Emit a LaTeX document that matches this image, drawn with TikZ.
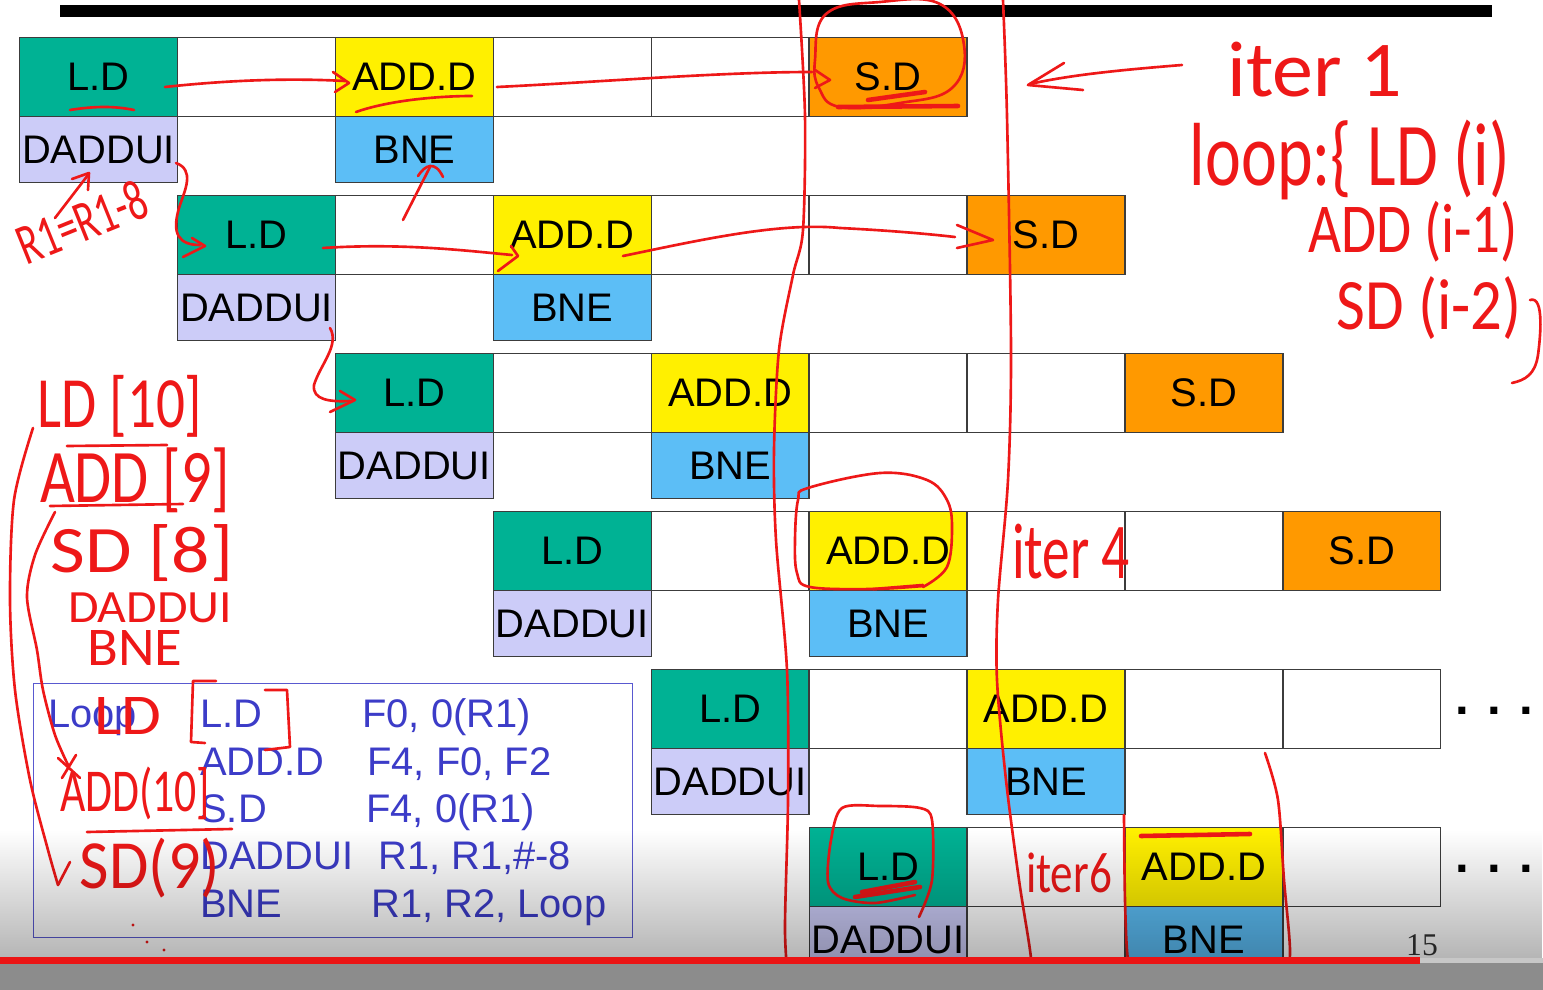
\documentclass[tikz,border=0pt]{standalone}
\usepackage{fontspec}
\usepackage{graphicx}
\usetikzlibrary{fadings}
\setmainfont{Liberation Sans}
\newfontfamily\handfont{Carlito}
\newfontfamily\pagenumfont{Liberation Serif}
\definecolor{ldgreen}{RGB}{0,178,148}
\definecolor{addyellow}{RGB}{255,240,0}
\definecolor{sdorange}{RGB}{255,153,0}
\definecolor{bneblue}{RGB}{92,190,246}
\definecolor{dadlav}{RGB}{204,204,248}
\definecolor{cellborder}{RGB}{60,60,60}
\definecolor{codeblue}{RGB}{60,60,200}
\definecolor{annred}{RGB}{238,24,24}
\definecolor{ytred}{RGB}{235,20,20}
\newcommand\cellfont{\fontsize{22.7}{26}\selectfont}
\begin{document}
\begin{tikzpicture}[x=0.02cm,y=-0.02cm,
  cellbase/.style={draw=cellborder, line width=0.8pt, inner sep=0pt, anchor=north west, minimum width=3.158cm, font=\cellfont, text=black},
  topcell/.style={cellbase, minimum height=1.58cm},
  botcell/.style={cellbase, minimum height=1.32cm},
  codetext/.style={anchor=base west, inner sep=0pt, text=codeblue, font=\cellfont},
  ann/.style={draw=annred, line width=1.5pt, line cap=round, line join=round},
  hw/.style={inner sep=0pt, text=annred, font=\handfont},
  dotsstyle/.style={anchor=base, inner sep=0pt, font=\fontsize{28}{30}\selectfont\bfseries}]
\useasboundingbox (0,0) rectangle (1543,990);
\fill[white] (0,0) rectangle (1543,990);
% top bar
\fill[black] (60,5) rectangle (1492,17);
% pipeline grid
\foreach \i in {0,...,5}{
  \pgfmathsetmacro\yt{37+158*\i}
  \pgfmathsetmacro\yb{116+158*\i}
  \node[topcell, fill=ldgreen] (ld\i) at ({19+157.9*\i},\yt) {L.D};
  \node[topcell, fill=white] (ea\i) at ({19+157.9*(\i+1)},\yt) {};
  \node[topcell, fill=addyellow] (add\i) at ({19+157.9*(\i+2)},\yt) {ADD.D};
  \node[topcell, fill=white] (eb\i) at ({19+157.9*(\i+3)},\yt) {};
  \ifnum\i<5 \node[topcell, fill=white] (ec\i) at ({19+157.9*(\i+4)},\yt) {};\fi
  \ifnum\i<4 \node[topcell, fill=sdorange] (sd\i) at ({19+157.9*(\i+5)},\yt) {S.D};\fi
  \node[botcell, fill=dadlav] (dad\i) at ({19+157.9*\i},\yb) {DADDUI};
  \node[botcell, fill=bneblue] (bne\i) at ({19+157.9*(\i+2)},\yb) {BNE};
}
\node[dotsstyle] (dotsA) at (1494,714) {. . .};
\node[dotsstyle] (dotsB) at (1494,872) {. . .};
% code box
\node[draw=codeblue!85, line width=0.8pt, anchor=north west, minimum width=11.98cm, minimum height=5.08cm, inner sep=0pt] (codebox) at (33,683) {};
\node[codetext] (c0) at (48,727) {Loop};
\node[codetext] (c1a) at (200,727) {L.D};
\node[codetext] (c1b) at (362,727) {F0, 0(R1)};
\node[codetext] (c2a) at (200,775) {ADD.D};
\node[codetext] (c2b) at (367,775) {F4, F0, F2};
\node[codetext] (c3a) at (200,822) {S.D};
\node[codetext] (c3b) at (366,822) {F4, 0(R1)};
\node[codetext] (c4a) at (200,869) {DADDUI};
\node[codetext] (c4b) at (378,869) {R1, R1,\#-8};
\node[codetext] (c5a) at (200,917) {BNE};
\node[codetext] (c5b) at (371,917) {R1, R2, Loop};
% page number
\node[anchor=base, inner sep=0pt, text=black!80, font=\pagenumfont\fontsize{18}{20}\selectfont] (pgnum) at (1422,955) {15};

% ===== red annotations =====
% row 1 arrows and underlines
\draw[ann] (165,87) .. controls (230,80) and (290,78) .. (345,81);
\draw[ann] (333,72) -- (349,83) -- (335,92);
\draw[ann] (70,110) .. controls (95,106) and (115,106) .. (134,110);
\draw[ann] (356,112) .. controls (390,100) and (440,96) .. (472,96);
\draw[ann] (497,87) .. controls (600,82) and (720,72) .. (812,72);
\draw[ann] (815,70) -- (830,80) -- (815,88);
\draw[ann] plot[smooth cycle, tension=0.7] coordinates {(815,60) (826,14) (880,2) (940,4) (964,45) (952,88) (900,103) (840,107) (819,88)};
\draw[ann, line width=2.6pt] (838,107) -- (958,106);
\draw[ann, line width=2.6pt] (868,100) -- (925,92);
% long vertical strokes
\draw[ann] plot[smooth] coordinates {(799,0) (805,116) (803,230) (793,275) (779,350) (774,450) (776,540) (787,670) (788,800) (785,930) (789,990)};
\draw[ann] plot[smooth] coordinates {(1003,0) (1007,116) (1011,350) (1008,480) (998,600) (997,680) (1006,780) (1019,880) (1030,950) (1034,990)};
% R1=R1-8 and arrows
\node[hw, rotate=22] (hr1) at (82,222) {\resizebox*{2.7cm}{0.8cm}{R1=R1-8}};
\draw[ann] (55,218) -- (88,175);
\draw[ann] (72,179) -- (89,173) -- (88,190);
\draw[ann] (176,163) .. controls (195,170) and (185,190) .. (180,205) .. controls (170,235) and (180,245) .. (200,245);
\draw[ann] (192,238) -- (205,246) -- (183,257);
\draw[ann] (403,220) -- (430,167);
\draw[ann] (418,176) .. controls (425,165) and (435,160) .. (443,177);
% row 2 arrows
\draw[ann] (323,248) .. controls (400,243) and (460,250) .. (512,255);
\draw[ann] (511,246) -- (518,256) -- (498,271);
\draw[ann] (623,256) .. controls (700,240) and (780,222) .. (840,228) .. controls (880,230) and (920,233) .. (955,237);
\draw[ann] (957,225) -- (993,240) -- (957,248);
\draw[ann] (330,328) .. controls (340,345) and (320,365) .. (314,385) .. controls (312,400) and (330,402) .. (350,401);
\draw[ann] (340,391) -- (355,400) -- (330,412);
% iter 1 block
\draw[ann] (1182,65) .. controls (1120,70) and (1070,75) .. (1030,84);
\draw[ann] (1064,63) -- (1028,85) -- (1083,90);
\node[hw] (hiter1) at (1315,70) {\resizebox*{3.5cm}{1.1cm}{iter 1}};
\node[hw] (hloop) at (1350,160) {\resizebox*{6.4cm}{1.6cm}{loop:\{ LD (i)}};
\node[hw] (hadd) at (1413,232) {\resizebox*{4.2cm}{1.22cm}{ADD (i-1)}};
\node[hw] (hsd) at (1429,308) {\resizebox*{3.7cm}{1.26cm}{SD (i-2)}};
\draw[ann] (1530,300) .. controls (1545,295) and (1540,340) .. (1538,355) .. controls (1535,375) and (1525,380) .. (1512,383);
% iter 4 circle
\draw[ann] plot[smooth, tension=0.6] coordinates {(923,587) (947,567) (952,527) (947,500) (927,480) (880,473) (808,488) (798,500) (795,540) (797,573) (810,587) (873,589) (923,586)};
\draw[ann] (873,589) -- (923,585);
\node[hw] (hiter4) at (1071,552) {\resizebox*{2.36cm}{1.1cm}{iter 4}};
% row 6 annotations
\draw[ann] plot[smooth] coordinates {(919,917) (932,880) (932,820) (920,808) (880,806) (842,808) (831,840) (828,882) (842,898) (875,903) (915,895)};
\draw[ann, line width=2.6pt] (855,897) -- (920,887);
\draw[ann, line width=2.6pt] (862,892) -- (915,882);
\node[hw] (hiter6) at (1069,873) {\resizebox*{1.72cm}{0.8cm}{iter6}};
\draw[ann, line width=2.6pt] (1141,836) -- (1250,834);
\draw[ann] plot[smooth] coordinates {(1124,815) (1125,900) (1128,960) (1138,990)};
\draw[ann] plot[smooth] coordinates {(1265,753) (1278,800) (1284,880) (1290,950) (1286,990)};
% left column notes
\node[hw] (hld10) at (120,406) {\resizebox*{3.3cm}{1.24cm}{LD [10]}};
\node[hw] (hadd9) at (135,480) {\resizebox*{3.8cm}{1.3cm}{ADD [9]}};
\draw[ann] (67,446) -- (167,445);
\draw[ann] (50,506) -- (183,504);
\node[hw] (hsd8) at (142,553) {\resizebox*{3.66cm}{1.14cm}{SD [8]}};
\node[hw] (hdaddui) at (150,608) {\resizebox*{3.28cm}{0.6cm}{DADDUI}};
\node[hw] (hbne) at (135,648) {\resizebox*{1.9cm}{0.7cm}{BNE}};
\draw[ann] plot[smooth] coordinates {(33,428) (14,500) (10,600) (15,690) (30,780) (48,850) (58,885)};
\draw[ann] (58,885) -- (70,862);
\draw[ann] plot[smooth] coordinates {(55,512) (35,555) (27,597) (37,650) (43,690) (55,735) (69,767)};
\draw[ann] (58,758) -- (80,778);
\draw[ann] (62,778) -- (76,755);
% code box notes
\node[hw] (hld) at (128,716) {\resizebox*{1.34cm}{0.74cm}{LD}};
\draw[ann] (216,681) -- (193,681) -- (191,742) -- (205,743);
\draw[ann] (265,690) -- (287,690) -- (290,747) -- (265,750);
\node[hw] (hadd10) at (135,793) {\resizebox*{3cm}{1.06cm}{ADD(10]}};
\draw[ann] (87,832) -- (232,829);
\node[hw] (hsd9) at (150,868) {\resizebox*{2.8cm}{1.2cm}{SD(9)}};
\fill[annred] (133,925) circle (1.6) (147,942) circle (1.6) (164,950) circle (1.6);

% ===== video overlay =====
\fill[black, opacity=0.3, path fading=north] (0,830) rectangle (1543,963);
\fill[black!45] (0,963) rectangle (1543,990);
\fill[ytred] (0,957) rectangle (1420,964);
\fill[black!22] (1420,958) rectangle (1543,963);
\end{tikzpicture}
\end{document}
